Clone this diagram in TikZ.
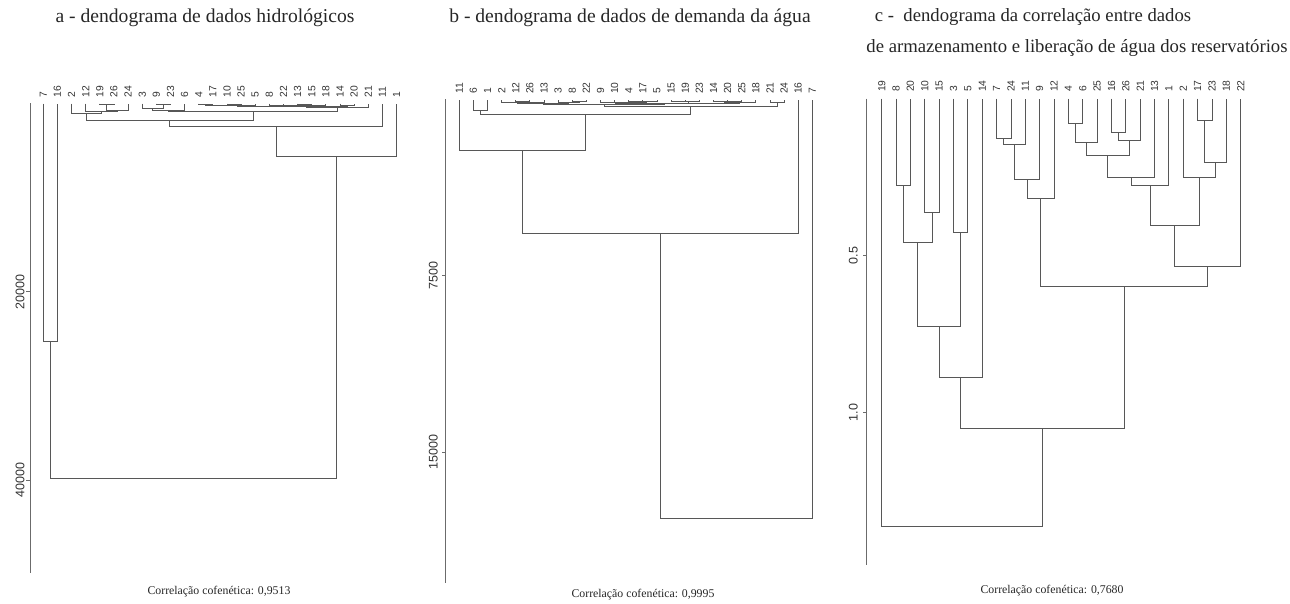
\documentclass[tikz,border=0pt]{standalone}
\usepackage{fontspec}
\setmainfont{Liberation Serif}
\newfontfamily\lsans{Liberation Sans}
\usetikzlibrary{calc}
\newcommand\mrg[4]{%
  \path let \p1=(#2), \p2=(#3) in coordinate (#1) at ({(\x1+\x2)/2},{-#4pt});
  \draw[dl] (#2) -- (#2 |- #1) -- (#3 |- #1) -- (#3);}
\begin{document}
\begin{tikzpicture}[x=1pt,y=-1pt,
  dl/.style={draw=black!66, line width=0.9pt},
  axl/.style={draw=black!58, line width=0.9pt},
  lf/.style={font=\lsans\fontsize{10.3}{11}\selectfont, rotate=90, anchor=west, inner sep=0pt, text=black!80},
  axlab/.style={font=\lsans\fontsize{12.5}{14}\selectfont, rotate=90, inner sep=0pt, text=black!80},
  ttl/.style={font=\fontsize{19.6}{22}\selectfont, anchor=base, inner sep=0pt, text=black!85},
  ttlc/.style={font=\fontsize{18.7}{22}\selectfont, anchor=base, inner sep=0pt, text=black!85},
  captxt/.style={font=\fontsize{11.8}{14}\selectfont, anchor=base, inner sep=0pt, text=black!85}]
\useasboundingbox (0,0) rectangle (1290,603);
% ---------------- titles and captions
\node[ttl] (ta) at (205,22) {a - dendograma de dados hidrológicos};
\node[ttl] (tb) at (630,22) {b - dendograma de dados de demanda da água};
\node[ttlc] (tc1) at (1033,21) {c -~ dendograma da correlação entre dados};
\node[ttlc] (tc2) at (1077,52) {de armazenamento e liberação de água dos reservatórios};
\node[captxt] (ca) at (219,594) {Correlação cofenética: 0,9513};
\node[captxt] (cb) at (643,597) {Correlação cofenética: 0,9995};
\node[captxt] (cc) at (1052,593) {Correlação cofenética: 0,7680};
% ---------------- axes
\draw[axl] (30,103.3) -- (30,573);
\draw[axl] (30,291.7) -- (26,291.7) (30,480) -- (26,480);
\node[axlab] (ya1) at (20,291.7) {20000};
\node[axlab] (ya2) at (20,480) {40000};
\draw[axl] (445.7,99.3) -- (445.7,583);
\draw[axl] (445.7,275.7) -- (441.7,275.7) (445.7,452.3) -- (441.7,452.3);
\node[axlab] (yb1) at (433.3,275.7) {7500};
\node[axlab] (yb2) at (433.3,452.3) {15000};
\draw[axl] (866.7,98.7) -- (866.7,565);
\draw[axl] (866.7,255.7) -- (862.7,255.7) (866.7,412.7) -- (862.7,412.7);
\node[axlab] (yc1) at (853.3,255.7) {0.5};
\node[axlab] (yc2) at (853.3,412.7) {1.0};
% ---------------- panel a
\foreach \lab [count=\i] in {7,16,2,12,19,26,24,3,9,23,6,4,17,10,25,5,8,22,13,15,18,14,20,21,11,1}{
  \coordinate (a\lab) at ({43.3+14.13*(\i-1)},103.5);
  \node[lf] (la\lab) at ({43.3+14.13*(\i-1)},97.5) {\lab};
}
\mrg{aM1}{a19}{a26}{104.5}
\mrg{aM2}{aM1}{a24}{110}
\mrg{aM3}{a12}{aM2}{111.7}
\mrg{aM4}{a2}{aM3}{113.3}
\mrg{aM5}{a9}{a23}{104.5}
\mrg{aM6}{a3}{aM5}{108.3}
\mrg{aM7}{aM6}{a6}{110}
\mrg{aB1}{a4}{a17}{104.5}
\mrg{aB2}{a10}{a25}{104.6}
\mrg{aB3}{aB1}{aB2}{105}
\mrg{aB4}{aB3}{a5}{105.5}
\mrg{aB5}{a8}{a22}{105}
\mrg{aB6}{a13}{a15}{104.7}
\mrg{aB7}{aB6}{a18}{105.2}
\mrg{aB8}{aB5}{aB7}{105.8}
\mrg{aB9}{aB4}{aB8}{106.3}
\mrg{aB10}{a14}{a20}{105.2}
\mrg{aB11}{aB9}{aB10}{106.8}
\mrg{aB12}{aB11}{a21}{107.7}
\mrg{aM8}{aM7}{aB12}{111.7}
\mrg{aM9}{aM4}{aM8}{120}
\mrg{aM10}{aM9}{a11}{126}
\mrg{aM11}{aM10}{a1}{156}
\mrg{aM12}{a7}{a16}{341}
\mrg{aM13}{aM12}{aM11}{478}
% ---------------- panel b
\foreach \lab [count=\i] in {11,6,1,2,12,26,13,3,8,22,9,10,4,17,5,15,19,23,14,20,25,18,21,24,16,7}{
  \coordinate (b\lab) at ({459.3+14.12*(\i-1)},100);
  \node[lf] (lb\lab) at ({459.3+14.12*(\i-1)},94) {\lab};
}
\mrg{bM1}{b12}{b26}{101.5}
\mrg{bM2}{bM1}{b13}{102}
\mrg{bM3}{b2}{bM2}{102.5}
\mrg{bP1}{b8}{b22}{101.5}
\mrg{bP2}{b3}{bP1}{102}
\mrg{bL}{bM3}{bP2}{103}
\mrg{bQ1}{b4}{b17}{101}
\mrg{bQ2}{bQ1}{b5}{101.5}
\mrg{bQ3}{b10}{bQ2}{102}
\mrg{bS}{b9}{bQ3}{102.5}
\mrg{bQ5}{b15}{b19}{101}
\mrg{bQ6}{bQ5}{b23}{101.8}
\mrg{bQ8}{b20}{b25}{101}
\mrg{bQ9}{b14}{bQ8}{101.8}
\mrg{bQ10}{bQ9}{b18}{102.5}
\mrg{bT}{bQ6}{bQ10}{103}
\mrg{bR}{bS}{bT}{103.5}
\mrg{bK}{bL}{bR}{104}
\mrg{bW}{b21}{b24}{102.7}
\mrg{bX}{bK}{bW}{106}
\mrg{bY}{b6}{b1}{110}
\mrg{bZ}{bY}{bX}{114.3}
\mrg{bZ2}{b11}{bZ}{150}
\mrg{bZ3}{bZ2}{b16}{233}
\mrg{bZ4}{bZ3}{b7}{518}
% ---------------- panel c
\foreach \lab [count=\i] in {19,8,20,10,15,3,5,14,7,24,11,9,12,4,6,25,16,26,21,13,1,2,17,23,18,22}{
  \coordinate (c\lab) at ({881.7+14.36*(\i-1)},98.5);
  \node[lf] (lc\lab) at ({881.7+14.36*(\i-1)},92) {\lab};
}
\mrg{cM1}{c8}{c20}{185}
\mrg{cM2}{c10}{c15}{212.7}
\mrg{cM3}{cM1}{cM2}{242.7}
\mrg{cM4}{c3}{c5}{232.7}
\mrg{cM5}{cM3}{cM4}{326}
\mrg{cM6}{cM5}{c14}{377.7}
\mrg{cM7}{c7}{c24}{138.3}
\mrg{cM8}{cM7}{c11}{144.3}
\mrg{cM9}{cM8}{c9}{179}
\mrg{cM10}{cM9}{c12}{198.3}
\mrg{cM11}{c4}{c6}{123.3}
\mrg{cM12}{cM11}{c25}{142.3}
\mrg{cM13}{c16}{c26}{132.3}
\mrg{cM14}{cM13}{c21}{140.7}
\mrg{cM15}{cM12}{cM14}{155.7}
\mrg{cM16}{cM15}{c13}{177.3}
\mrg{cM17}{cM16}{c1}{185.7}
\mrg{cM18}{c17}{c23}{120.7}
\mrg{cM19}{cM18}{c18}{162.7}
\mrg{cM20}{c2}{cM19}{177.7}
\mrg{cM21}{cM17}{cM20}{225}
\mrg{cM22}{cM21}{c22}{266}
\mrg{cM23}{cM10}{cM22}{286.7}
\mrg{cM24}{cM6}{cM23}{428.3}
\mrg{cM25}{c19}{cM24}{526.7}
\end{tikzpicture}
\end{document}
